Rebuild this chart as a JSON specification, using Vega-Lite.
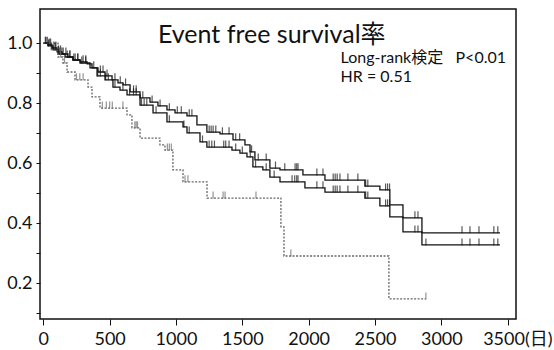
{
  "$schema": "https://vega.github.io/schema/vega-lite/v6.json",
  "width": 476,
  "height": 310,
  "autosize": {"type": "none"},
  "padding": {"left": 40, "top": 9, "right": 38, "bottom": 31},
  "background": "white",
  "config": {
    "view": {"stroke": "#111", "strokeWidth": 1.5},
    "font": "Lato, Noto Sans CJK JP",
    "axisX": {
      "grid": false, "domain": false, "title": null,
      "labelFont": "Lato, Noto Sans CJK JP", "labelColor": "#111", "tickColor": "#111",
      "format": "d",
      "labelExpr": "datum.value == 3500 ? '3500(日)' : datum.label",
      "labelAlign": {"condition": {"test": "datum.value == 3500", "value": "left"}, "value": "center"},
      "labelOffset": {"condition": {"test": "datum.value == 3500", "value": -25}, "value": 0},
      "labelFontSize": 18, "labelPadding": 5, "tickSize": 6,
      "labelFlush": false, "labelOverlap": false
    },
    "axisY": {
      "grid": false, "domain": false, "title": null,
      "labelFont": "Lato, Noto Sans CJK JP", "labelColor": "#111", "tickColor": "#111",
      "format": ".1f",
      "labelExpr": "(datum.label == '0.2' || datum.label == '0.4' || datum.label == '0.6' || datum.label == '0.8' || datum.label == '1.0') ? datum.label : ''",
      "labelFontSize": 18, "labelPadding": 4, "tickSize": 4,
      "labelOverlap": false, "labelFlush": false
    }
  },
  "datasets": {
    "curves": [
      {"group": "A", "day": 0, "surv": 1.0},
      {"group": "A", "day": 35, "surv": 0.994},
      {"group": "A", "day": 66, "surv": 0.984},
      {"group": "A", "day": 104, "surv": 0.971},
      {"group": "A", "day": 141, "surv": 0.964},
      {"group": "A", "day": 186, "surv": 0.954},
      {"group": "A", "day": 223, "surv": 0.944},
      {"group": "A", "day": 277, "surv": 0.938},
      {"group": "A", "day": 330, "surv": 0.931},
      {"group": "A", "day": 367, "surv": 0.918},
      {"group": "A", "day": 412, "surv": 0.904},
      {"group": "A", "day": 465, "surv": 0.891},
      {"group": "A", "day": 518, "surv": 0.878},
      {"group": "A", "day": 563, "surv": 0.868},
      {"group": "A", "day": 601, "surv": 0.861},
      {"group": "A", "day": 654, "surv": 0.838},
      {"group": "A", "day": 729, "surv": 0.818},
      {"group": "A", "day": 804, "surv": 0.804},
      {"group": "A", "day": 864, "surv": 0.791},
      {"group": "A", "day": 932, "surv": 0.778},
      {"group": "A", "day": 993, "surv": 0.768},
      {"group": "A", "day": 1083, "surv": 0.758},
      {"group": "A", "day": 1158, "surv": 0.728},
      {"group": "A", "day": 1233, "surv": 0.704},
      {"group": "A", "day": 1332, "surv": 0.698},
      {"group": "A", "day": 1430, "surv": 0.678},
      {"group": "A", "day": 1520, "surv": 0.661},
      {"group": "A", "day": 1558, "surv": 0.638},
      {"group": "A", "day": 1595, "surv": 0.611},
      {"group": "A", "day": 1708, "surv": 0.584},
      {"group": "A", "day": 1784, "surv": 0.578},
      {"group": "A", "day": 1957, "surv": 0.561},
      {"group": "A", "day": 2123, "surv": 0.544},
      {"group": "A", "day": 2424, "surv": 0.524},
      {"group": "A", "day": 2537, "surv": 0.511},
      {"group": "A", "day": 2612, "surv": 0.461},
      {"group": "A", "day": 2711, "surv": 0.418},
      {"group": "A", "day": 2854, "surv": 0.368},
      {"group": "A", "day": 3442, "surv": 0.368},
      {"group": "B", "day": 0, "surv": 1.0},
      {"group": "B", "day": 35, "surv": 0.991},
      {"group": "B", "day": 73, "surv": 0.978},
      {"group": "B", "day": 111, "surv": 0.964},
      {"group": "B", "day": 164, "surv": 0.954},
      {"group": "B", "day": 224, "surv": 0.944},
      {"group": "B", "day": 277, "surv": 0.934},
      {"group": "B", "day": 352, "surv": 0.918},
      {"group": "B", "day": 405, "surv": 0.891},
      {"group": "B", "day": 465, "surv": 0.878},
      {"group": "B", "day": 525, "surv": 0.854},
      {"group": "B", "day": 578, "surv": 0.844},
      {"group": "B", "day": 631, "surv": 0.828},
      {"group": "B", "day": 729, "surv": 0.794},
      {"group": "B", "day": 827, "surv": 0.768},
      {"group": "B", "day": 932, "surv": 0.738},
      {"group": "B", "day": 1053, "surv": 0.721},
      {"group": "B", "day": 1083, "surv": 0.701},
      {"group": "B", "day": 1181, "surv": 0.671},
      {"group": "B", "day": 1233, "surv": 0.654},
      {"group": "B", "day": 1422, "surv": 0.644},
      {"group": "B", "day": 1482, "surv": 0.634},
      {"group": "B", "day": 1535, "surv": 0.621},
      {"group": "B", "day": 1580, "surv": 0.588},
      {"group": "B", "day": 1655, "surv": 0.578},
      {"group": "B", "day": 1708, "surv": 0.554},
      {"group": "B", "day": 1784, "surv": 0.538},
      {"group": "B", "day": 1972, "surv": 0.518},
      {"group": "B", "day": 2123, "surv": 0.504},
      {"group": "B", "day": 2424, "surv": 0.484},
      {"group": "B", "day": 2537, "surv": 0.458},
      {"group": "B", "day": 2612, "surv": 0.421},
      {"group": "B", "day": 2711, "surv": 0.371},
      {"group": "B", "day": 2854, "surv": 0.328},
      {"group": "B", "day": 3442, "surv": 0.328},
      {"group": "C", "day": 0, "surv": 1.0},
      {"group": "C", "day": 111, "surv": 0.954},
      {"group": "C", "day": 148, "surv": 0.934},
      {"group": "C", "day": 179, "surv": 0.904},
      {"group": "C", "day": 239, "surv": 0.878},
      {"group": "C", "day": 337, "surv": 0.854},
      {"group": "C", "day": 367, "surv": 0.821},
      {"group": "C", "day": 427, "surv": 0.784},
      {"group": "C", "day": 631, "surv": 0.761},
      {"group": "C", "day": 668, "surv": 0.718},
      {"group": "C", "day": 729, "surv": 0.684},
      {"group": "C", "day": 879, "surv": 0.661},
      {"group": "C", "day": 917, "surv": 0.644},
      {"group": "C", "day": 977, "surv": 0.578},
      {"group": "C", "day": 1053, "surv": 0.538},
      {"group": "C", "day": 1234, "surv": 0.484},
      {"group": "C", "day": 1791, "surv": 0.388},
      {"group": "C", "day": 1814, "surv": 0.291},
      {"group": "C", "day": 2605, "surv": 0.148},
      {"group": "C", "day": 2884, "surv": 0.148}
    ],
    "censor": [
      {"group": "A", "day": 15, "surv": 1.0},
      {"group": "A", "day": 30, "surv": 1.0},
      {"group": "A", "day": 45, "surv": 0.994},
      {"group": "A", "day": 55, "surv": 0.994},
      {"group": "A", "day": 80, "surv": 0.984},
      {"group": "A", "day": 95, "surv": 0.984},
      {"group": "A", "day": 115, "surv": 0.971},
      {"group": "A", "day": 130, "surv": 0.971},
      {"group": "A", "day": 150, "surv": 0.964},
      {"group": "A", "day": 170, "surv": 0.964},
      {"group": "A", "day": 200, "surv": 0.954},
      {"group": "A", "day": 240, "surv": 0.944},
      {"group": "A", "day": 260, "surv": 0.944},
      {"group": "A", "day": 300, "surv": 0.938},
      {"group": "A", "day": 320, "surv": 0.938},
      {"group": "A", "day": 380, "surv": 0.918},
      {"group": "A", "day": 430, "surv": 0.904},
      {"group": "A", "day": 450, "surv": 0.904},
      {"group": "A", "day": 480, "surv": 0.891},
      {"group": "A", "day": 540, "surv": 0.878},
      {"group": "A", "day": 580, "surv": 0.868},
      {"group": "A", "day": 620, "surv": 0.861},
      {"group": "A", "day": 680, "surv": 0.838},
      {"group": "A", "day": 700, "surv": 0.838},
      {"group": "A", "day": 750, "surv": 0.818},
      {"group": "A", "day": 820, "surv": 0.804},
      {"group": "A", "day": 880, "surv": 0.791},
      {"group": "A", "day": 950, "surv": 0.778},
      {"group": "A", "day": 1010, "surv": 0.768},
      {"group": "A", "day": 1040, "surv": 0.768},
      {"group": "A", "day": 1100, "surv": 0.758},
      {"group": "A", "day": 1120, "surv": 0.758},
      {"group": "A", "day": 1250, "surv": 0.704},
      {"group": "A", "day": 1265, "surv": 0.704},
      {"group": "A", "day": 1280, "surv": 0.704},
      {"group": "A", "day": 1300, "surv": 0.704},
      {"group": "A", "day": 1350, "surv": 0.698},
      {"group": "A", "day": 1400, "surv": 0.698},
      {"group": "A", "day": 1450, "surv": 0.678},
      {"group": "A", "day": 1480, "surv": 0.678},
      {"group": "A", "day": 1570, "surv": 0.638},
      {"group": "A", "day": 1620, "surv": 0.611},
      {"group": "A", "day": 1680, "surv": 0.611},
      {"group": "A", "day": 1750, "surv": 0.584},
      {"group": "A", "day": 1820, "surv": 0.578},
      {"group": "A", "day": 1898, "surv": 0.578},
      {"group": "A", "day": 1910, "surv": 0.578},
      {"group": "A", "day": 1920, "surv": 0.578},
      {"group": "A", "day": 2062, "surv": 0.561},
      {"group": "A", "day": 2108, "surv": 0.561},
      {"group": "A", "day": 2185, "surv": 0.544},
      {"group": "A", "day": 2200, "surv": 0.544},
      {"group": "A", "day": 2215, "surv": 0.544},
      {"group": "A", "day": 2236, "surv": 0.544},
      {"group": "A", "day": 2296, "surv": 0.544},
      {"group": "A", "day": 2371, "surv": 0.544},
      {"group": "A", "day": 2430, "surv": 0.524},
      {"group": "A", "day": 2446, "surv": 0.524},
      {"group": "A", "day": 2580, "surv": 0.511},
      {"group": "A", "day": 2595, "surv": 0.511},
      {"group": "A", "day": 2610, "surv": 0.511},
      {"group": "A", "day": 2801, "surv": 0.418},
      {"group": "A", "day": 2824, "surv": 0.418},
      {"group": "A", "day": 3156, "surv": 0.368},
      {"group": "A", "day": 3216, "surv": 0.368},
      {"group": "A", "day": 3284, "surv": 0.368},
      {"group": "A", "day": 3396, "surv": 0.368},
      {"group": "A", "day": 3426, "surv": 0.368},
      {"group": "B", "day": 20, "surv": 1.0},
      {"group": "B", "day": 40, "surv": 0.991},
      {"group": "B", "day": 60, "surv": 0.978},
      {"group": "B", "day": 90, "surv": 0.978},
      {"group": "B", "day": 120, "surv": 0.964},
      {"group": "B", "day": 140, "surv": 0.964},
      {"group": "B", "day": 180, "surv": 0.954},
      {"group": "B", "day": 200, "surv": 0.954},
      {"group": "B", "day": 230, "surv": 0.944},
      {"group": "B", "day": 260, "surv": 0.944},
      {"group": "B", "day": 290, "surv": 0.934},
      {"group": "B", "day": 320, "surv": 0.934},
      {"group": "B", "day": 410, "surv": 0.891},
      {"group": "B", "day": 430, "surv": 0.891},
      {"group": "B", "day": 470, "surv": 0.878},
      {"group": "B", "day": 490, "surv": 0.878},
      {"group": "B", "day": 540, "surv": 0.854},
      {"group": "B", "day": 600, "surv": 0.844},
      {"group": "B", "day": 650, "surv": 0.828},
      {"group": "B", "day": 680, "surv": 0.828},
      {"group": "B", "day": 700, "surv": 0.828},
      {"group": "B", "day": 740, "surv": 0.794},
      {"group": "B", "day": 760, "surv": 0.794},
      {"group": "B", "day": 780, "surv": 0.794},
      {"group": "B", "day": 850, "surv": 0.768},
      {"group": "B", "day": 950, "surv": 0.738},
      {"group": "B", "day": 1060, "surv": 0.721},
      {"group": "B", "day": 1100, "surv": 0.701},
      {"group": "B", "day": 1200, "surv": 0.671},
      {"group": "B", "day": 1250, "surv": 0.654},
      {"group": "B", "day": 1270, "surv": 0.654},
      {"group": "B", "day": 1290, "surv": 0.654},
      {"group": "B", "day": 1360, "surv": 0.654},
      {"group": "B", "day": 1375, "surv": 0.654},
      {"group": "B", "day": 1400, "surv": 0.654},
      {"group": "B", "day": 1450, "surv": 0.644},
      {"group": "B", "day": 1500, "surv": 0.634},
      {"group": "B", "day": 1560, "surv": 0.621},
      {"group": "B", "day": 1600, "surv": 0.588},
      {"group": "B", "day": 1680, "surv": 0.578},
      {"group": "B", "day": 1740, "surv": 0.554},
      {"group": "B", "day": 1875, "surv": 0.538},
      {"group": "B", "day": 1895, "surv": 0.538},
      {"group": "B", "day": 1910, "surv": 0.538},
      {"group": "B", "day": 1920, "surv": 0.538},
      {"group": "B", "day": 2062, "surv": 0.518},
      {"group": "B", "day": 2108, "surv": 0.518},
      {"group": "B", "day": 2185, "surv": 0.504},
      {"group": "B", "day": 2200, "surv": 0.504},
      {"group": "B", "day": 2215, "surv": 0.504},
      {"group": "B", "day": 2236, "surv": 0.504},
      {"group": "B", "day": 2296, "surv": 0.504},
      {"group": "B", "day": 2371, "surv": 0.504},
      {"group": "B", "day": 2430, "surv": 0.484},
      {"group": "B", "day": 2446, "surv": 0.484},
      {"group": "B", "day": 2580, "surv": 0.458},
      {"group": "B", "day": 2595, "surv": 0.458},
      {"group": "B", "day": 2610, "surv": 0.458},
      {"group": "B", "day": 2801, "surv": 0.371},
      {"group": "B", "day": 2824, "surv": 0.371},
      {"group": "B", "day": 2884, "surv": 0.328},
      {"group": "B", "day": 3156, "surv": 0.328},
      {"group": "B", "day": 3216, "surv": 0.328},
      {"group": "B", "day": 3284, "surv": 0.328},
      {"group": "B", "day": 3396, "surv": 0.328},
      {"group": "B", "day": 3426, "surv": 0.328},
      {"group": "C", "day": 130, "surv": 0.954},
      {"group": "C", "day": 160, "surv": 0.934},
      {"group": "C", "day": 250, "surv": 0.878},
      {"group": "C", "day": 275, "surv": 0.878},
      {"group": "C", "day": 300, "surv": 0.878},
      {"group": "C", "day": 445, "surv": 0.784},
      {"group": "C", "day": 475, "surv": 0.784},
      {"group": "C", "day": 500, "surv": 0.784},
      {"group": "C", "day": 520, "surv": 0.784},
      {"group": "C", "day": 600, "surv": 0.784},
      {"group": "C", "day": 690, "surv": 0.718},
      {"group": "C", "day": 700, "surv": 0.718},
      {"group": "C", "day": 710, "surv": 0.718},
      {"group": "C", "day": 935, "surv": 0.644},
      {"group": "C", "day": 950, "surv": 0.644},
      {"group": "C", "day": 965, "surv": 0.644},
      {"group": "C", "day": 1068, "surv": 0.538},
      {"group": "C", "day": 1090, "surv": 0.538},
      {"group": "C", "day": 1280, "surv": 0.484},
      {"group": "C", "day": 1355, "surv": 0.484},
      {"group": "C", "day": 1370, "surv": 0.484},
      {"group": "C", "day": 1603, "surv": 0.484},
      {"group": "C", "day": 1866, "surv": 0.291},
      {"group": "C", "day": 2884, "surv": 0.148}
    ]
  },
  "layer": [
    {
      "data": {"name": "curves"},
      "mark": {"type": "line", "interpolate": "step-after", "strokeWidth": 1.3, "clip": true},
      "encoding": {
        "x": {"field": "day", "type": "quantitative", "scale": {"domain": [-25, 3563], "nice": false, "zero": false}, "axis": {"values": [0, 500, 1000, 1500, 2000, 2500, 3000, 3500]}},
        "y": {"field": "surv", "type": "quantitative", "scale": {"domain": [0.081, 1.114], "nice": false, "zero": false}, "axis": {"values": [0.1, 0.2, 0.3, 0.4, 0.5, 0.6, 0.7, 0.8, 0.9, 1.0]}},
        "detail": {"field": "group"},
        "color": {
          "field": "group", "type": "nominal",
          "scale": {"domain": ["A", "B", "C"], "range": ["#111111", "#111111", "#666666"]},
          "legend": null
        },
        "strokeDash": {
          "field": "group", "type": "nominal",
          "scale": {"domain": ["A", "B", "C"], "range": [[1, 0], [1, 0], [2, 1.5]]},
          "legend": null
        }
      }
    },
    {
      "data": {"name": "censor"},
      "mark": {"type": "tick", "orient": "vertical", "size": 7, "thickness": 1.2, "yOffset": -3},
      "encoding": {
        "x": {"field": "day", "type": "quantitative", "scale": {"domain": [-25, 3563], "nice": false, "zero": false}, "axis": {"values": [0, 500, 1000, 1500, 2000, 2500, 3000, 3500]}},
        "y": {"field": "surv", "type": "quantitative", "scale": {"domain": [0.081, 1.114], "nice": false, "zero": false}, "axis": {"values": [0.1, 0.2, 0.3, 0.4, 0.5, 0.6, 0.7, 0.8, 0.9, 1.0]}},
        "color": {
          "field": "group", "type": "nominal",
          "scale": {"domain": ["A", "B", "C"], "range": ["#111111", "#111111", "#666666"]},
          "legend": null
        }
      }
    },
    {
      "data": {"values": [{}]},
      "mark": {"type": "text", "align": "left", "baseline": "alphabetic", "fontSize": 25, "font": "Lato, Noto Sans CJK JP", "color": "#111"},
      "encoding": {
        "x": {"datum": 864, "type": "quantitative", "scale": {"domain": [-25, 3563], "nice": false, "zero": false}, "axis": {"values": [0, 500, 1000, 1500, 2000, 2500, 3000, 3500]}},
        "y": {"datum": 1.0, "type": "quantitative", "scale": {"domain": [0.081, 1.114], "nice": false, "zero": false}, "axis": {"values": [0.1, 0.2, 0.3, 0.4, 0.5, 0.6, 0.7, 0.8, 0.9, 1.0]}},
        "text": {"value": "Event free survival率"}
      }
    },
    {
      "data": {"values": [{}]},
      "mark": {"type": "text", "align": "left", "baseline": "alphabetic", "fontSize": 16, "font": "Lato, Noto Sans CJK JP", "color": "#111"},
      "encoding": {
        "x": {"datum": 2241, "type": "quantitative", "scale": {"domain": [-25, 3563], "nice": false, "zero": false}, "axis": {"values": [0, 500, 1000, 1500, 2000, 2500, 3000, 3500]}},
        "y": {"datum": 0.935, "type": "quantitative", "scale": {"domain": [0.081, 1.114], "nice": false, "zero": false}, "axis": {"values": [0.1, 0.2, 0.3, 0.4, 0.5, 0.6, 0.7, 0.8, 0.9, 1.0]}},
        "text": {"value": "Long-rank検定\u00a0\u00a0\u00a0P<0.01"}
      }
    },
    {
      "data": {"values": [{}]},
      "mark": {"type": "text", "align": "left", "baseline": "alphabetic", "fontSize": 16, "font": "Lato, Noto Sans CJK JP", "color": "#111"},
      "encoding": {
        "x": {"datum": 2241, "type": "quantitative", "scale": {"domain": [-25, 3563], "nice": false, "zero": false}, "axis": {"values": [0, 500, 1000, 1500, 2000, 2500, 3000, 3500]}},
        "y": {"datum": 0.872, "type": "quantitative", "scale": {"domain": [0.081, 1.114], "nice": false, "zero": false}, "axis": {"values": [0.1, 0.2, 0.3, 0.4, 0.5, 0.6, 0.7, 0.8, 0.9, 1.0]}},
        "text": {"value": "HR\u00a0=\u00a00.51"}
      }
    }
  ]
}
